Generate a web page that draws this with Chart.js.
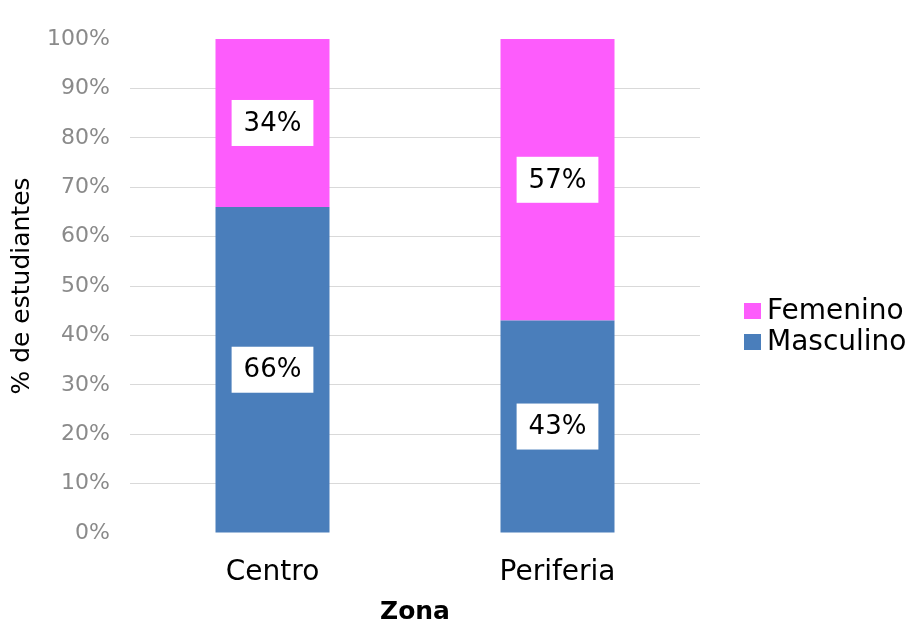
<!DOCTYPE html>
<html>
<head>
<meta charset="utf-8">
<script src="https://cdn.jsdelivr.net/npm/chart.js@4.4.1/dist/chart.umd.min.js"></script>
<style>
  html, body { margin: 0; padding: 0; background: #fff; }
  #chart { display: block; }
</style>
</head>
<body>
<canvas id="chart" width="913" height="625"></canvas>
<script>
const zonas = ['Centro', 'Periferia'];
const masculino = [66, 43];
const femenino = [34, 57];
const yTicks = [0, 10, 20, 30, 40, 50, 60, 70, 80, 90, 100];

const FONT = '"DejaVu Sans", sans-serif';

// white boxes with the % value in the middle of every segment
const boxLabels = {
  id: 'boxLabels',
  afterDatasetsDraw(chart) {
    const ctx = chart.ctx;
    ctx.save();
    ctx.font = '26px ' + FONT;
    ctx.textAlign = 'center';
    ctx.textBaseline = 'middle';
    chart.data.datasets.forEach((ds, i) => {
      chart.getDatasetMeta(i).data.forEach((bar, j) => {
        const { x, y } = bar.getCenterPoint();
        const text = ds.data[j] + '%';
        const w = ctx.measureText(text).width + 24;
        const h = 46;
        ctx.fillStyle = '#ffffff';
        ctx.fillRect(x - w / 2, y - h / 2, w, h);
        ctx.fillStyle = '#000000';
        ctx.fillText(text, x, y + 1);
      });
    });
    ctx.restore();
  }
};

// legend on the right, Femenino first
const sideLegend = {
  id: 'sideLegend',
  afterDraw(chart) {
    const ctx = chart.ctx;
    const items = chart.data.datasets.slice().reverse();
    ctx.save();
    ctx.font = '28px ' + FONT;
    ctx.textAlign = 'left';
    ctx.textBaseline = 'middle';
    items.forEach((ds, i) => {
      const cy = 311 + i * 31;
      ctx.fillStyle = ds.backgroundColor;
      ctx.fillRect(744, cy - 8, 17, 16);
      ctx.fillStyle = '#000000';
      ctx.fillText(ds.label, 767, cy + 1);
    });
    ctx.restore();
  }
};

new Chart(document.getElementById('chart'), {
  type: 'bar',
  data: {
    labels: zonas,
    datasets: [
      { label: 'Masculino', data: masculino, backgroundColor: '#4a7ebb' },
      { label: 'Femenino', data: femenino, backgroundColor: '#fd5cfc' },
    ],
  },
  options: {
    responsive: false,
    animation: false,
    categoryPercentage: 1,
    barPercentage: 0.4,
    layout: { padding: { top: 39, right: 213, left: 0, bottom: 0 } },
    plugins: {
      legend: { display: false },
      tooltip: { enabled: false },
    },
    scales: {
      x: {
        stacked: true,
        grid: { display: false },
        border: { display: false },
        ticks: { color: '#000', padding: 15, font: { family: FONT, size: 28 } },
        title: {
          display: true,
          text: 'Zona',
          color: '#000',
          padding: { top: 0, bottom: 0 },
          font: { family: FONT, size: 25, weight: 'bold', lineHeight: 1 },
        },
        afterFit: scale => { scale.height = 92; },
      },
      y: {
        stacked: true,
        min: 0,
        max: 100,
        afterBuildTicks: scale => { scale.ticks = yTicks.map(value => ({ value })); },
        grid: {
          drawTicks: false,
          color: c => (c.tick && (c.tick.value === 0 || c.tick.value === 100)) ? 'rgba(0,0,0,0)' : '#d9d9d9',
        },
        border: { display: false },
        ticks: {
          color: '#8a8a8a',
          padding: 20,
          font: { family: FONT, size: 22 },
          callback: value => value + '%',
        },
        title: {
          display: true,
          text: '% de estudiantes',
          color: '#000',
          padding: { top: 7, bottom: 0 },
          font: { family: FONT, size: 25 },
        },
        afterFit: scale => { scale.width = 130; },
      },
    },
  },
  plugins: [boxLabels, sideLegend],
});
</script>
</body>
</html>
